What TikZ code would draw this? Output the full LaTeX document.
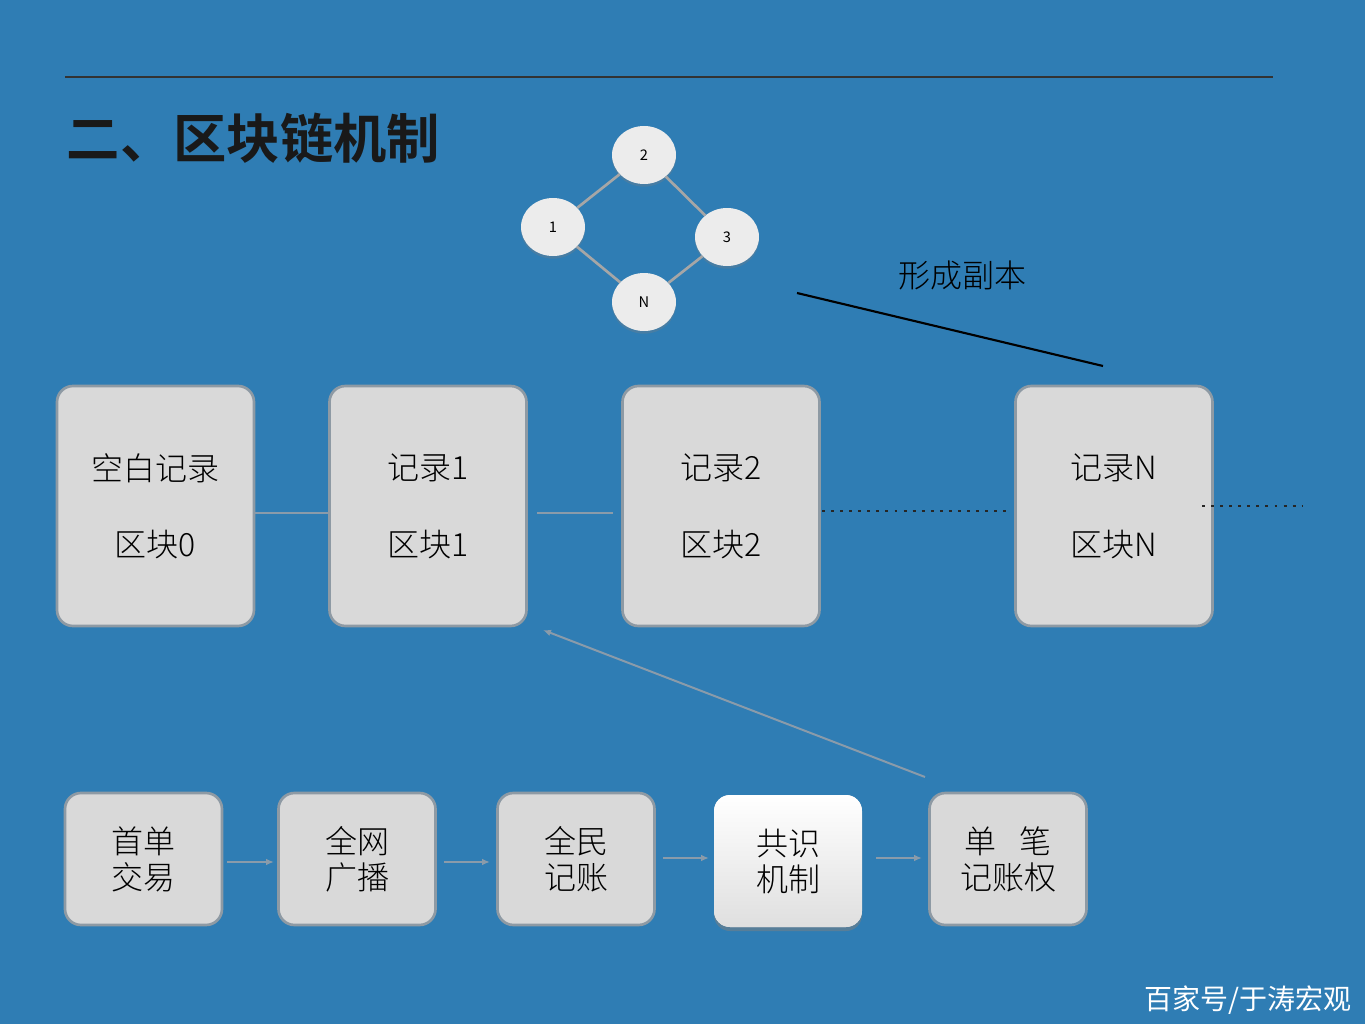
\documentclass[tikz,border=0pt]{standalone}
\usepackage{fontspec}
\setmainfont{Noto Sans CJK SC}
\newfontfamily\cjkb{Noto Sans CJK SC Bold}
\newfontfamily\cjkl{Noto Sans CJK SC Light}
\usetikzlibrary{arrows.meta,shadows,shapes.geometric}
\definecolor{bg}{HTML}{2F7DB4}
\definecolor{boxf}{HTML}{D9D9D9}
\definecolor{boxd}{HTML}{8E9AA4}
\definecolor{conn}{HTML}{8A9BAA}
\tikzset{
 bigbox/.style={draw=boxd,line width=2pt,fill=boxf,rounded corners=12pt,minimum width=197*0.75pt,minimum height=240*0.75pt,inner sep=0pt},
 smallbox/.style={draw=boxd,line width=2pt,fill=boxf,rounded corners=12pt,minimum width=157*0.75pt,minimum height=132*0.75pt,align=center,font=\fontsize{24}{27}\selectfont\cjkl,inner sep=0pt},
 circ/.style={ellipse,fill=gray!15,draw=none,minimum width=64*0.75pt,minimum height=58*0.75pt,font=\fontsize{11}{12}\selectfont,inner sep=0pt,drop shadow={opacity=0.3,shadow xshift=0pt,shadow yshift=-2pt}},
 link/.style={draw=conn,line width=1.5pt},
 netlink/.style={draw=gray!70,line width=2pt},
 arr/.style={draw=conn,line width=1.5pt,-{Latex[length=6pt,width=5pt]}},
 dotline/.style={draw=black!85,line width=2.2pt,dash pattern=on 2.2pt off 4.6pt},
 btxt/.style={font=\fontsize{24}{27}\selectfont\cjkl}
}
\begin{document}
\begin{tikzpicture}[x=0.75pt,y=-0.75pt]
\fill[bg] (0,0) rectangle (1365,1024);
\useasboundingbox (0,0) rectangle (1365,1024);
\draw[black!80,line width=0.8pt] (65,77) -- (1273,77);
\node[anchor=west,font=\fontsize{40}{42}\selectfont\cjkb,text=black!90] (title) at (62,138) {二、区块链机制};
% network
\node[circ] (c2) at (644,155) {2};
\node[circ] (c1) at (553,227) {1};
\node[circ] (c3) at (727,237) {3};
\node[circ] (cN) at (644,302) {N};
\draw[netlink] (c1) -- (c2); \draw[netlink] (c2) -- (c3); \draw[netlink] (c3) -- (cN); \draw[netlink] (cN) -- (c1);
\node[btxt,text=black] (fz) at (962,275) {形成副本};
\coordinate (l1) at (797,293); \coordinate (l2) at (1103,366);
\draw[black,line width=1.6pt] (l1) -- (l2);
% big boxes
\node[bigbox] (b0) at (155.5,506) {};
\node[bigbox] (b1) at (428,506) {};
\node[bigbox] (b2) at (721,506) {};
\node[bigbox] (bN) at (1114,506) {};
\foreach \n/\x/\a/\b in {b0/155.5/空白记录/区块0, b1/428/记录1/区块1, b2/721/记录2/区块2, bN/1114/记录N/区块N}{
 \node[btxt] at (\x,468) {\a};
 \node[btxt] at (\x,545) {\b};
}
\draw[link] (b0.east |- 0,513) -- (b1.west |- 0,513);
\coordinate (m1) at (537,513); \coordinate (m2) at (613,513);
\draw[link] (m1) -- (m2);
\coordinate (d1) at (822,511); \coordinate (d2) at (1006,511);
\draw[dotline] (d1) -- (d2);
\coordinate (d3) at (1202,506); \coordinate (d4) at (1302,506);
\draw[dotline] (d3) -- (d4);
% bottom
\node[smallbox] (s1) at (143.5,859) {首单\\交易};
\node[smallbox] (s2) at (357,859) {全网\\广播};
\node[smallbox] (s3) at (576,859) {全民\\记账};
\node[smallbox,draw=none,minimum width=148*0.75pt,top color=white,bottom color=gray!25,drop shadow={opacity=0.5,shadow xshift=0pt,shadow yshift=-3pt}] (s4) at (788,861) {共识\\机制};
\node[smallbox] (s5) at (1008,859) {单\hspace{0.7em}笔\\记账权};
\draw[arr] (s1.east |- 0,862) ++(4,0) -- (274,862);
\draw[arr] (s2.east |- 0,862) ++(7,0) -- (490,862);
\draw[arr] (s3.east |- 0,858) ++(7,0) -- (709,858);
\draw[arr] (s4.east |- 0,858) ++(13,0) -- (922,858);
\coordinate (a1) at (925,777); \coordinate (a2) at (543,630);
\draw[arr] (a1) -- (a2);
\node[font=\fontsize{21}{22}\selectfont,text=white,anchor=east] (wm) at (1356,1000) {百家号/于涛宏观};
\end{tikzpicture}
\end{document}
